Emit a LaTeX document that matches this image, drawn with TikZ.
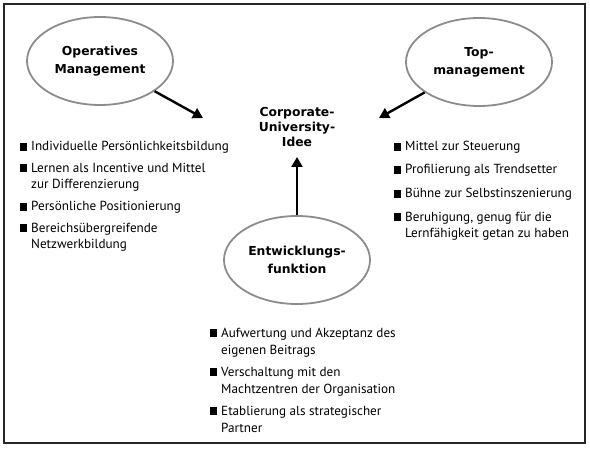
\documentclass[tikz,border=0pt]{standalone}
\usepackage{fontspec}
\setmainfont{PT Sans}
\newfontfamily\headfont{DejaVu Sans}
\usetikzlibrary{shapes.geometric,arrows.meta}
\tikzset{
  bubble/.style={ellipse, draw=black!45, line width=1.8bp, minimum width=146bp, minimum height=88bp, inner sep=0pt, align=center, font=\headfont\bfseries\fontsize{12.4}{18}\selectfont},
  head/.style={align=center, inner sep=0pt, font=\headfont\bfseries\fontsize{12.4}{15.5}\selectfont},
  item/.style={anchor=base west, align=left, inner sep=0pt, font=\fontsize{13.2}{17}\selectfont},
  bigarrow/.style={line width=2.4bp, -{Triangle[length=10bp,width=11bp]}},
}
\newcommand\bul{\llap{\rule[0.2bp]{7.5bp}{7.5bp}\hspace{4bp}}}
\begin{document}
\begin{tikzpicture}[x=1bp,y=-1bp]
\useasboundingbox (0,0) rectangle (590,449);
\draw[line width=1.5bp, black!85] (4,4) rectangle (585,443);

\node[bubble] (om) at (100,61) {Operatives\\Management};
\node[bubble] (tm) at (479,62) {Top-\\management};
\node[bubble] (ef) at (297,260) {Entwicklungs-\\funktion};
\node[head] (cu) at (297,127) {Corporate-\\University-\\Idee};

\coordinate (t1) at (203,118);
\coordinate (t2) at (379,118);
\coordinate (t3) at (297,157);
\draw[bigarrow] (om) -- (t1);
\draw[bigarrow] (tm) -- (t2);
\draw[bigarrow] (ef) -- (t3);

\node[item] (l1) at (31,151) {\bul Individuelle Persönlichkeitsbildung};
\node[item] (l2) at (31,189) {\bul Lernen als Incentive und Mittel\\zur Differenzierung};
\node[item] (l3) at (31,211) {\bul Persönliche Positionierung};
\node[item] (l4) at (31,249) {\bul Bereichsübergreifende\\Netzwerkbildung};

\node[item] (r1) at (405,151) {\bul Mittel zur Steuerung};
\node[item] (r2) at (405,174) {\bul Profilierung als Trendsetter};
\node[item] (r3) at (405,198) {\bul Bühne zur Selbstinszenierung};
\node[item] (r4) at (405,238) {\bul Beruhigung, genug für die\\Lernfähigkeit getan zu haben};

\node[item] (b1) at (221,354) {\bul Aufwertung und Akzeptanz des\\eigenen Beitrags};
\node[item] (b2) at (221,393) {\bul Verschaltung mit den\\Machtzentren der Organisation};
\node[item] (b3) at (221,432) {\bul Etablierung als strategischer\\Partner};
\end{tikzpicture}
\end{document}
